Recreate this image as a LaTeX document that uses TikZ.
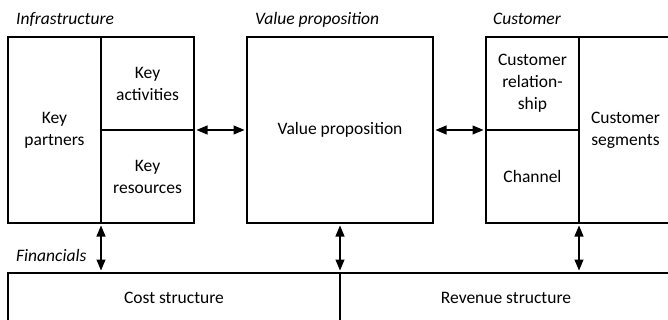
\documentclass[tikz,border=0pt]{standalone}
\usepackage{fontspec}
\setmainfont{Carlito}
\usetikzlibrary{arrows.meta}
\begin{document}
\begin{tikzpicture}[x=1pt,y=-1pt,
  cell/.style={draw,line width=1.2pt,rectangle,outer sep=0pt,inner sep=0pt,align=center,
    font=\fontsize{17.5}{22}\selectfont},
  grp/.style={anchor=base west,inner sep=0pt,font=\fontsize{17.5}{22}\selectfont\itshape},
  biarrow/.style={line width=1.1pt,{Triangle[length=11pt,width=9pt]}-{Triangle[length=11pt,width=9pt]},shorten <=2.5pt,shorten >=2.5pt}]
\useasboundingbox (0,0) rectangle (668,320);
\clip (0,0) rectangle (668,320);
% infrastructure
\node[cell,minimum width=93pt,minimum height=186pt] (kp) at (54.5,130) {Key\\partners};
\node[cell,minimum width=93pt,minimum height=93pt] (ka) at (147.5,83.5) {Key\\activities};
\node[cell,minimum width=93pt,minimum height=93pt] (kr) at (147.5,176.5) {Key\\resources};
% value
\node[cell,minimum width=186pt,minimum height=186pt] (vp) at (340,130) {Value proposition};
% customer
\node[cell,minimum width=93pt,minimum height=93pt] (cr) at (532.5,83.5) {Customer\\relation-\\ship};
\node[cell,minimum width=93pt,minimum height=93pt] (ch) at (532.5,176.5) {Channel};
\node[cell,minimum width=93pt,minimum height=186pt] (cs) at (625.5,130) {Customer\\segments};
% financials
\node[cell,minimum width=332pt,minimum height=50pt] (cost) at (174,298) {Cost structure};
\node[cell,minimum width=332pt,minimum height=50pt] (rev) at (506,298) {Revenue structure};
% group labels
\node[grp] (linf) at (16,25) {Infrastructure};
\node[grp] (lval) at (255,25) {Value proposition};
\node[grp] (lcus) at (493,25) {Customer};
\node[grp] (lfin) at (16,261) {Financials};
% arrows
\draw[biarrow] (ka.south east) -- (vp.west);
\draw[biarrow] (vp.east) -- (cr.south west);
\draw[biarrow] (kp.south east) -- (kp.south east |- cost.north);
\draw[biarrow] (vp.south) -- (cost.north east);
\draw[biarrow] (cs.south west) -- (cs.south west |- rev.north);
\end{tikzpicture}
\end{document}
